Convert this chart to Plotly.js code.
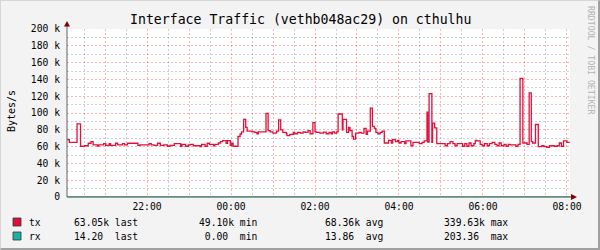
<!DOCTYPE html>
<html><head><meta charset="utf-8">
<script src="https://cdn.plot.ly/plotly-3.0.1.min.js"></script>
<style>
html,body{margin:0;padding:0;background:#F3F3F3;}
#wrap{position:relative;width:600px;height:250px;overflow:hidden;}
#chart{width:600px;height:250px;}
#frame{position:absolute;left:0;top:0;width:600px;height:250px;box-sizing:border-box;border-top:1px solid #D6D6D6;border-left:1px solid #D6D6D6;border-right:2px solid #A0A0A0;border-bottom:2px solid #A0A0A0;pointer-events:none;}
</style></head><body>
<div id="wrap"><div id="chart"></div><div id="frame"></div></div>
<script>
// ---- data ----
const txTimes = ["20:05","20:09","20:20","20:25","20:31","20:36","20:40","20:43","20:49","20:51","20:58",
"21:01","21:06","21:08","21:15","21:18","21:25","21:28","21:32","21:47","21:50",
"22:03","22:06","22:10","22:15","22:19","22:24","22:29","22:33","22:39","22:48","22:50","22:55","22:59",
"23:02","23:06","23:16","23:18","23:23","23:26","23:29","23:35","23:37","23:42","23:45","23:48","23:53","23:55","23:59",
"00:01","00:03","00:10","00:13","00:15","00:18","00:21","00:23","00:30","00:34","00:37","00:39","00:50","00:53","00:56",
"01:00","01:05","01:08","01:11","01:14","01:19","01:20","01:24","01:29","01:31","01:35","01:39","01:43","01:46","01:50","01:53","01:57",
"02:00","02:02","02:07","02:12","02:16","02:20","02:23","02:25","02:28","02:31","02:33","02:39","02:40","02:45","02:48","02:50","02:53","02:55","02:58",
"03:03","03:06","03:10","03:13","03:15","03:19","03:22","03:25","03:27","03:30","03:33","03:36","03:39","03:45","03:49","03:51","03:55","03:58",
"04:00","04:03","04:08","04:10","04:17","04:20","04:29","04:33","04:36","04:40","04:41","04:43","04:47","04:48","04:51","04:54",
"05:06","05:09","05:13","05:17","05:20","05:23","05:31","05:34","05:37","05:40","05:43","05:47","05:49","05:51","05:56","05:59",
"06:02","06:06","06:09","06:13","06:17","06:20","06:23","06:26","06:30","06:33","06:36","06:39","06:47","06:50","06:53","06:57",
"07:03","07:06","07:09","07:11","07:15","07:19","07:24","07:27","07:31","07:35","07:42","07:46","07:49","07:52","07:55",
"08:00","08:04"];
const txValuesK = [68.2,65,87,60.4,61,64,66,62,60.5,62,63.5,
61.5,63.5,61.5,64,62,63.5,62,64,61.5,62,
63.5,62,61.5,64,61.5,62,60.4,61.5,63.5,60.4,62.7,60.4,62,
62.7,61,60,62.7,60.4,64,62.7,61,62.7,64.3,66,67,64,67,61.5,
64,60.4,72,75,77.6,92.5,83,78.4,77.6,77,75.3,77.6,99.6,79,77.6,
76,78.4,91.8,80,77,75.3,73,74.5,77,75.3,77,76,77.6,77,79,75.3,88.6,
77.6,77,76,77.3,75.3,77,75.3,77.6,76,77.6,98.8,80,92.5,77,83,79,72,69,76,
77,76,81.6,74.5,78.4,105.9,84,81.6,77,75.3,77,78.4,64.3,67.5,64.3,68.2,66,67.5,
64.3,66,63.5,66.7,61,65,63.5,65,66.7,101,65.5,123,65,88,82.3,63.5,
61,63.5,66,63.5,61,63.5,60.4,63.5,60.4,64.3,61,63.5,67.5,66.7,62.7,61,
63.5,61,63.5,65,62.7,61,64.3,61,62.7,60.4,62.7,62,60.4,62.7,141.2,64.3,
62.7,124,66,64.3,86.3,60,61,60,59,61,60.4,61,64.3,60.4,66.7,
65,65];
const rxTimes = ["20:05","23:00","02:00","05:00","08:04"];
const rxValues = [12.5,13.1,15.4,13.9,14.2];
const yTickVals = [0,20000,40000,60000,80000,100000,120000,140000,160000,180000,200000];
const yTickText = ["0","20 k","40 k","60 k","80 k","100 k","120 k","140 k","160 k","180 k","200 k"];
const xTickHours = ["21:00","22:00","23:00","00:00","01:00","02:00","03:00","04:00","05:00","06:00","07:00","08:00"];
const xTickText  = ["","22:00","","00:00","","02:00","","04:00","","06:00","","08:00"];
const legendNames = ["tx","rx"];
const legendColors = ["#E0103C","#1FB0A4"];
const legendStats = [
  ["63.05k last","49.10k min","68.36k avg","339.63k max"],
  ["14.20\u00a0\u00a0last","\u00a00.00\u00a0\u00a0min","13.86\u00a0\u00a0avg","203.36\u00a0\u00a0max"]
];
const titleText = "Interface Traffic (vethb048ac29) on cthulhu";

// ---- helpers ----
function toDate(hm){ const h = +hm.split(':')[0]; return (h>=12 ? '2024-01-01 ' : '2024-01-02 ') + hm; }
const L=67, R=30, T=29, B=53, W=600, H=250;
const PW = W-L-R, PH = H-T-B;
const PX = px => (px-L)/PW;
const PY = py => (H-B-py)/PH;
const FONT = "DejaVu Sans Mono";

const traces = [
  {x: rxTimes.map(toDate), y: rxValues, type:'scatter', mode:'lines', line:{shape:'hv', color:'#1FB0A4', width:1}, hoverinfo:'skip'},
  {x: txTimes.map(toDate), y: txValuesK.map(v=>v*1000), type:'scatter', mode:'lines', line:{shape:'hv', color:'#E0103C', width:1.3}, hoverinfo:'skip'}
];

const mgrid = 'rgba(255,0,0,0.30)';
const ngrid = 'rgba(120,120,120,0.35)';
const dash = '2px,2px';

const annotations = [
  {xref:'paper', yref:'paper', x:PX(300), y:PY(19), xanchor:'center', yanchor:'middle', text:titleText, showarrow:false, font:{family:FONT, size:13.2, color:'#000'}},
  {xref:'paper', yref:'paper', x:PX(11), y:PY(111), xanchor:'center', yanchor:'middle', text:'Bytes/s', textangle:-90, showarrow:false, font:{family:FONT, size:10, color:'#000'}},
  {xref:'paper', yref:'paper', x:PX(591), y:PY(60), xanchor:'center', yanchor:'middle', text:'RRDTOOL / TOBI OETIKER', textangle:90, showarrow:false, font:{family:FONT, size:8.2, color:'#B4B4B4'}}
];
const shapes = [];
const rowY = [222, 236];
const colX = [72, 197, 323, 442];
legendNames.forEach((n,i)=>{
  shapes.push({type:'rect', xref:'paper', yref:'paper', x0:PX(13), x1:PX(21), y0:PY(rowY[i]-4), y1:PY(rowY[i]+4), fillcolor:legendColors[i], line:{color:'#333', width:0.8}});
  annotations.push({xref:'paper', yref:'paper', x:PX(27), y:PY(rowY[i]), xanchor:'left', yanchor:'middle', text:n, showarrow:false, font:{family:FONT, size:9.7, color:'#000'}});
  legendStats[i].forEach((s,j)=>{
    annotations.push({xref:'paper', yref:'paper', x:PX(colX[j]), y:PY(rowY[i]), xanchor:'left', yanchor:'middle', text:s, showarrow:false, font:{family:FONT, size:9.7, color:'#000'}});
  });
});
// axes and arrows
shapes.push({type:'line', xref:'paper', yref:'paper', x0:0, x1:PX(572), y0:0, y1:0, line:{color:'#2C4D43', width:1}, layer:'above'});
shapes.push({type:'line', xref:'paper', yref:'paper', x0:0, x1:0, y0:0, y1:PY(24), line:{color:'#606060', width:1}, layer:'above'});
shapes.push({type:'path', xref:'paper', yref:'paper', path:`M ${PX(571)} ${PY(194)} L ${PX(577)} ${PY(197)} L ${PX(571)} ${PY(200)} Z`, fillcolor:'#7F0000', line:{width:0}, layer:'above'});
shapes.push({type:'path', xref:'paper', yref:'paper', path:`M ${PX(64)} ${PY(26.5)} L ${PX(67)} ${PY(21)} L ${PX(70)} ${PY(26.5)} Z`, fillcolor:'#7F0000', line:{width:0}, layer:'above'});

const layout = {
  width:W, height:H, margin:{l:L, r:R, t:T, b:B, pad:0},
  paper_bgcolor:'#F3F3F3', plot_bgcolor:'#FFFFFF', showlegend:false,
  font:{family:FONT, size:9.7, color:'#000'},
  xaxis:{type:'date', range:['2024-01-01 20:05:40','2024-01-02 08:04:20'], tickmode:'array',
    tickvals: xTickHours.map(toDate), ticktext: xTickText, ticks:'', showline:false, zeroline:false,
    showgrid:true, gridcolor:mgrid, griddash:dash, gridwidth:1,
    tickfont:{family:FONT, size:9.7, color:'#000'}, ticklabelstandoff:2,
    minor:{tickmode:'linear', tick0:'2024-01-01 20:30', dtick:3600000, showgrid:true, gridcolor:ngrid, griddash:dash, gridwidth:1, ticks:''},
    fixedrange:true},
  yaxis:{range:[0,200000], tickmode:'array', tickvals:yTickVals, ticktext:yTickText, ticks:'', showline:false, zeroline:false,
    showgrid:true, gridcolor:mgrid, griddash:dash, gridwidth:1,
    tickfont:{family:FONT, size:9.7, color:'#000'}, ticklabelstandoff:6,
    minor:{tickmode:'linear', tick0:10000, dtick:20000, showgrid:true, gridcolor:ngrid, griddash:dash, gridwidth:1, ticks:''},
    fixedrange:true},
  annotations, shapes
};
Plotly.newPlot('chart', traces, layout, {staticPlot:true, displayModeBar:false});
</script>
</body></html>
